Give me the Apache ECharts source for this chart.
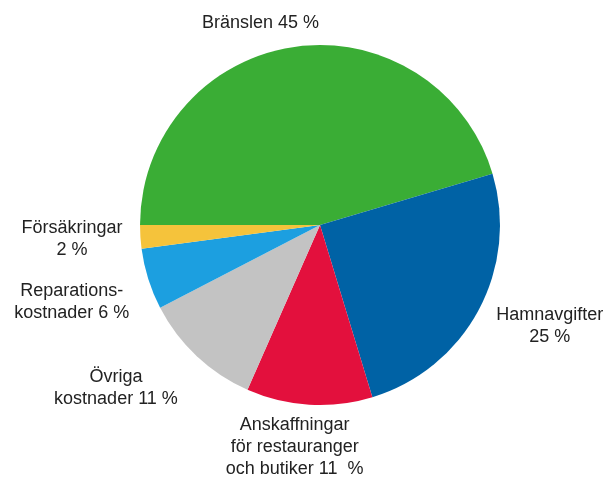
<!DOCTYPE html>
<html>
<head>
<meta charset="utf-8">
<script src="https://cdn.jsdelivr.net/npm/echarts@6/dist/echarts.min.js"></script>
<style>
    html, body { margin: 0; padding: 0; background: #fff; }
    #main { width: 611px; height: 477px; }
</style>
</head>
<body>
<div id="main"></div>
<script>
    // kostnadsandelar, medurs från kl. 9
    var names = ['Bränslen', 'Hamnavgifter', 'Anskaffningar för restauranger och butiker',
        'Övriga kostnader', 'Reparationskostnader', 'Försäkringar'];
    var values = [45.4, 24.9, 11.3, 10.8, 5.5, 2.1];
    var labels = ['Bränslen 45 %', 'Hamnavgifter\n25 %', 'Anskaffningar\nför restauranger\noch butiker 11  %',
        'Övriga\nkostnader 11 %', 'Reparations-\nkostnader 6 %', 'Försäkringar\n2 %'];
    var colors = ['#3aad35', '#0062a5', '#e3103d', '#c3c3c3', '#1c9fe0', '#f5c33b'];

    // finjustering av etiketternas läge (px)
    var nudge = [[-24, -5], [17, 2], [-10, 1], [-33, 10], [-14, 14], [-10, 0]];

    var chart = echarts.init(document.getElementById('main'));

    var seriesData = [];
    for (var i = 0; i < names.length; i++) {
        seriesData.push({
            name: names[i],
            value: values[i],
            itemStyle: { color: colors[i] },
            label: { formatter: labels[i] }
        });
    }

    chart.setOption({
        animation: false,
        series: [{
            type: 'pie',
            center: [320, 225],
            radius: 180,
            startAngle: 180,
            clockwise: true,
            silent: true,
            itemStyle: { borderWidth: 0 },
            label: {
                show: true,
                position: 'outside',
                overflow: 'none',
                color: '#222',
                fontFamily: 'Liberation Sans, Arial, sans-serif',
                fontSize: 18,
                lineHeight: 22,
                align: 'center'
            },
            labelLine: { show: false },
            labelLayout: function (params) {
                var lay = chart.getModel().getSeriesByIndex(0).getData().getItemLayout(params.dataIndex);
                var mid = (lay.startAngle + lay.endAngle) / 2;
                var dx = Math.cos(mid), dy = Math.sin(mid);
                var hw = params.labelRect.width / 2, hh = params.labelRect.height / 2;
                var n = nudge[params.dataIndex];
                return {
                    x: lay.cx + dx * (lay.r + 8) + dx * hw + n[0],
                    y: lay.cy + dy * (lay.r + 8) + dy * hh + n[1],
                    align: 'center',
                    verticalAlign: 'middle'
                };
            },
            data: seriesData
        }]
    });
</script>
</body>
</html>
